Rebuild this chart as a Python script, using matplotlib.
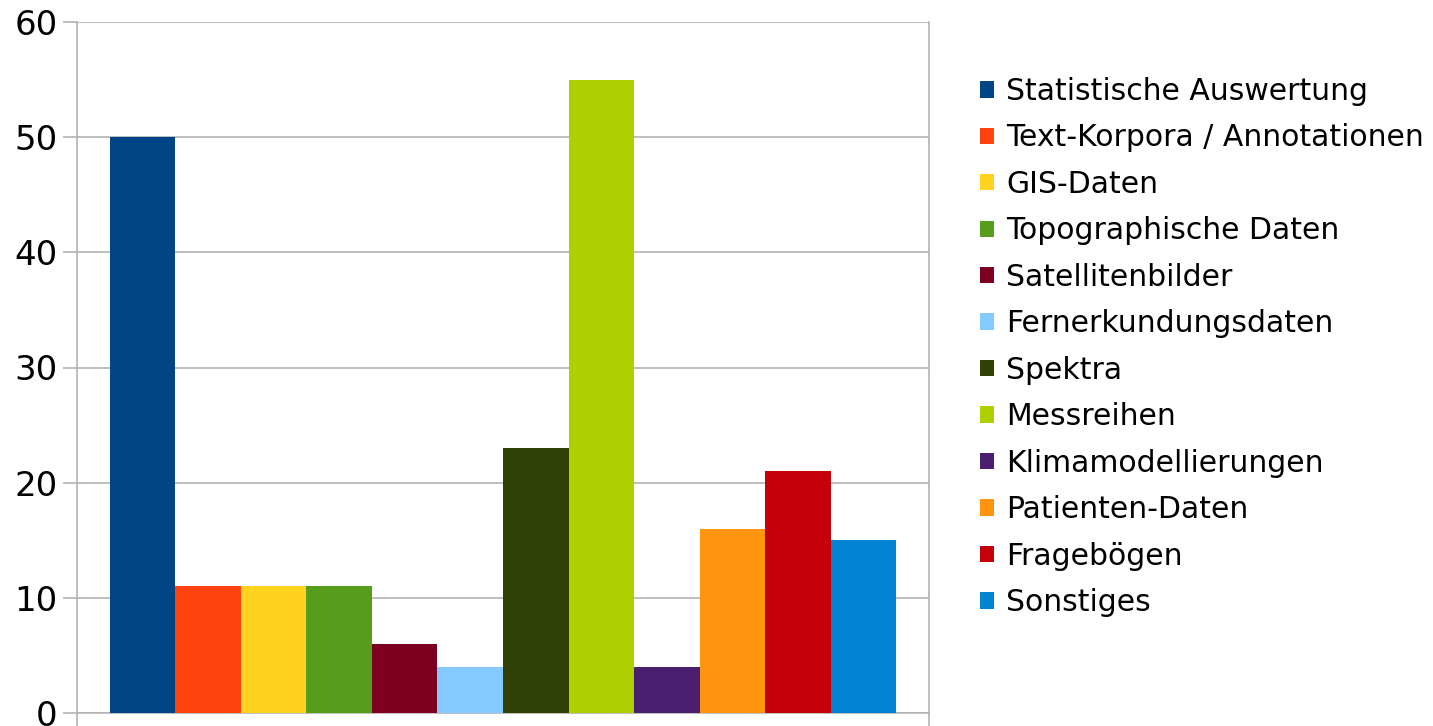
import matplotlib.pyplot as plt

# Survey: types of research data held, by category
categories = [
    "Statistische Auswertung",
    "Text-Korpora / Annotationen",
    "GIS-Daten",
    "Topographische Daten",
    "Satellitenbilder",
    "Fernerkundungsdaten",
    "Spektra",
    "Messreihen",
    "Klimamodellierungen",
    "Patienten-Daten",
    "Fragebögen",
    "Sonstiges",
]
counts = [50, 11, 11, 11, 6, 4, 23, 55, 4, 16, 21, 15]
colors = [
    "#004586", "#ff420e", "#ffd320", "#579d1c", "#7e0021", "#83caff",
    "#314004", "#aecf00", "#4b1f6f", "#ff950e", "#c5000b", "#0084d1",
]
yticks = [0, 10, 20, 30, 40, 50, 60]

grid_col = "#b3b3b3"

fig = plt.figure(figsize=(14.33, 7.26), dpi=100)
ax = fig.add_axes([77 / 1433, 13 / 726, 852 / 1433, 691 / 726])

bars = ax.bar(range(len(counts)), counts, width=1.0, color=colors, zorder=3)

ax.set_xlim(-1, len(counts))
ax.set_ylim(0, 60)
ax.set_yticks(yticks)
ax.set_xticks([-1, len(counts)])
ax.set_xticklabels([])
ax.yaxis.grid(True, color=grid_col, linewidth=1.2, zorder=0)

for side in ["left", "right", "bottom"]:
    ax.spines[side].set_color(grid_col)
    ax.spines[side].set_linewidth(1.2)
ax.spines["top"].set_visible(False)

ax.tick_params(axis="y", length=10, width=1.2, color=grid_col,
               labelsize=24.5, pad=4)
ax.tick_params(axis="x", length=10, width=1.2, color=grid_col)

leg = fig.legend(bars, categories, loc="upper left",
                 bbox_to_anchor=(968 / 1433, 1 - 65 / 726),
                 frameon=False, fontsize=21.5,
                 handlelength=0.47, handleheight=0.47, handletextpad=0.4,
                 labelspacing=0.585, borderaxespad=0)

fig.savefig("out.png", dpi=100)
